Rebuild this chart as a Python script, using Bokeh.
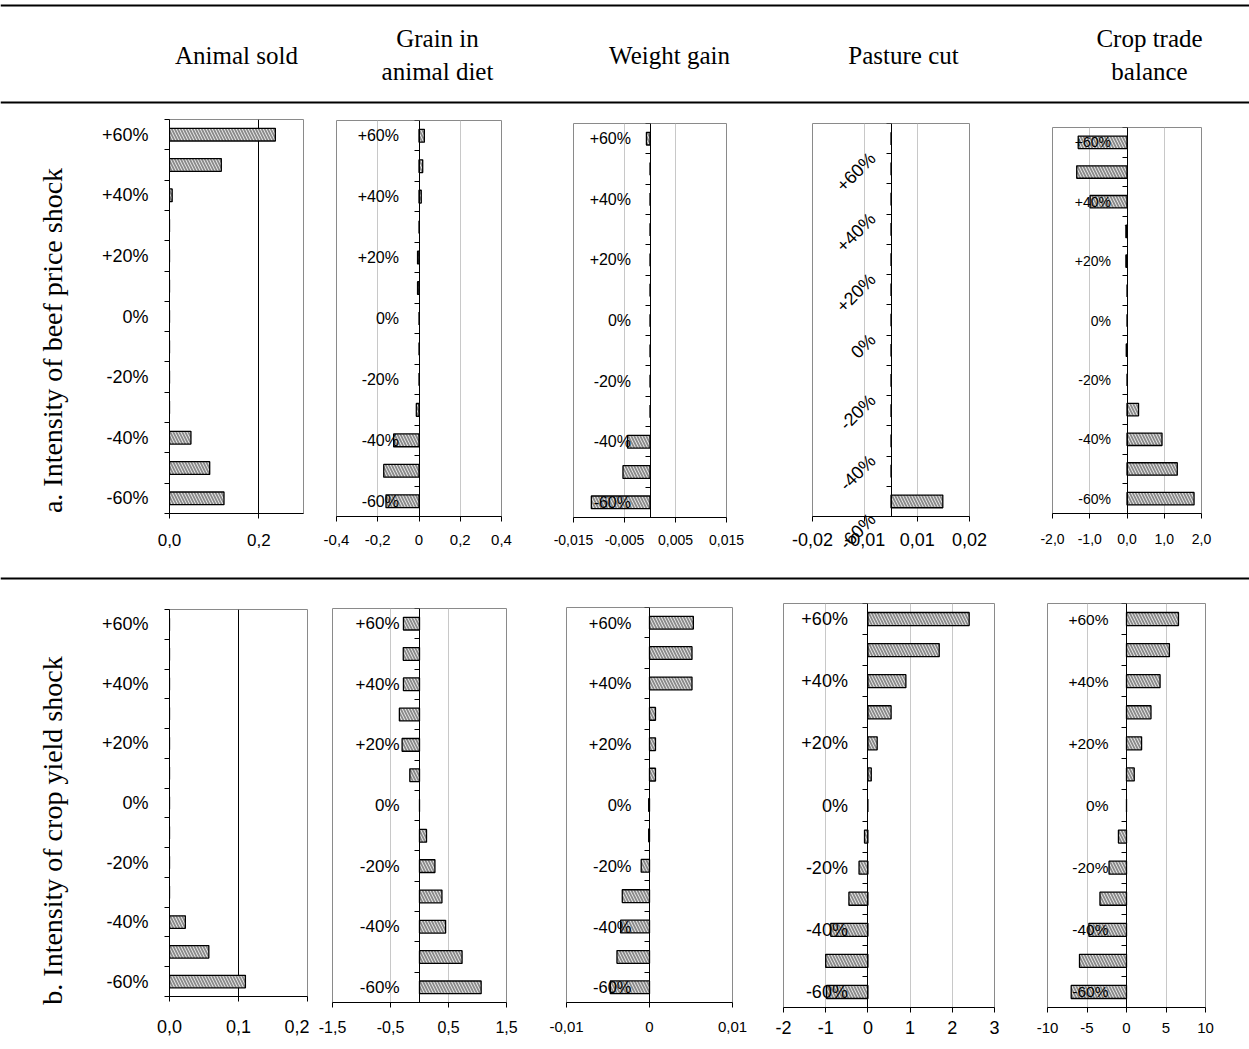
from math import pi
from bokeh.plotting import figure
from bokeh.models import Range1d, FixedTicker, Span, LinearAxis, ColumnDataSource
from bokeh.layouts import column, row
from bokeh.embed import file_html
from bokeh.resources import INLINE
from bokeh.core.properties import value

# ---------------- data ----------------
shock_levels = ["+60%", "+50%", "+40%", "+30%", "+20%", "+10%", "0%",
                "-10%", "-20%", "-30%", "-40%", "-50%", "-60%"]
labelled_levels = ["+60%", "+40%", "+20%", "0%", "-20%", "-40%", "-60%"]

column_titles = [["Animal sold"], ["Grain in", "animal diet"], ["Weight gain"],
                 ["Pasture cut"], ["Crop trade", "balance"]]
row_titles = ["a. Intensity of beef price shock", "b. Intensity of crop yield shock"]

# a. beef price shock
beef_animal_sold = [0.237, 0.116, 0.006, 0, 0, 0, 0, 0, 0, 0, 0.048, 0.090, 0.122]
beef_grain_diet = [0.026, 0.018, 0.011, 0, -0.007, -0.007, 0, 0, 0, -0.013, -0.123, -0.171, -0.16]
beef_weight_gain = [-0.0007, 0, 0, 0, 0, 0, 0, 0, 0, 0, -0.0044, -0.0053, -0.0115]
beef_pasture_cut = [0, 0, 0, 0, 0, 0, 0, 0, 0, 0, 0, 0, 0.0099]
beef_crop_trade = [-1.31, -1.35, -0.99, -0.03, -0.03, 0, 0, -0.02, 0, 0.31, 0.94, 1.35, 1.80]

# b. crop yield shock
crop_animal_sold = [0, 0, 0, 0, 0, 0, 0, 0, 0, 0, 0.023, 0.057, 0.110]
crop_grain_diet = [-0.277, -0.28, -0.277, -0.347, -0.30, -0.167, 0, 0.121, 0.266, 0.387, 0.45, 0.734, 1.063]
crop_weight_gain = [0.00528, 0.00512, 0.00512, 0.00072, 0.00072, 0.00072, -0.0001, -0.0001,
                    -0.001, -0.00328, -0.00348, -0.00392, -0.00472]
crop_pasture_cut = [2.40, 1.69, 0.90, 0.55, 0.22, 0.08, 0, -0.08, -0.21, -0.45, -0.88, -1.0, -0.98]
crop_trade_balance = [6.58, 5.43, 4.25, 3.10, 1.91, 0.98, 0, -1.02, -2.21, -3.36, -4.76, -5.95, -7.0]

# value-axis ticks and labels
a1_ticks, a1_labels = [0.0, 0.2], ["0,0", "0,2"]
a2_ticks, a2_labels = [-0.4, -0.2, 0.0, 0.2, 0.4], ["-0,4", "-0,2", "0", "0,2", "0,4"]
a3_ticks, a3_labels = [-0.015, -0.005, 0.005, 0.015], ["-0,015", "-0,005", "0,005", "0,015"]
a4_ticks, a4_labels = [-0.015, -0.005, 0.005, 0.015], ["-0,02", "-0,01", "0,01", "0,02"]
a5_ticks, a5_labels = [-2.0, -1.0, 0.0, 1.0, 2.0], ["-2,0", "-1,0", "0,0", "1,0", "2,0"]
b1_ticks, b1_labels = [0.0, 0.1, 0.2], ["0,0", "0,1", "0,2"]
b2_ticks, b2_labels = [-1.5, -0.5, 0.5, 1.5], ["-1,5", "-0,5", "0,5", "1,5"]
b3_ticks, b3_labels = [-0.01, 0.0, 0.01], ["-0,01", "0", "0,01"]
b4_ticks, b4_labels = [-2, -1, 0, 1, 2, 3], ["-2", "-1", "0", "1", "2", "3"]
b5_ticks, b5_labels = [-10, -5, 0, 5, 10], ["-10", "-5", "0", "5", "10"]

SANS = "Liberation Sans"
SERIF = "Liberation Serif"
W = 1249


def make_panel(vals, xr, xticks, xlabels, grid, grid_color, size, borders,
               ylab_fs, ylab_so, xlab_fs, xlab_so, rotated=False):
    w, h = size
    bl, br, bt, bb = borders
    n = len(shock_levels)
    p = figure(width=w, height=h, x_range=Range1d(*xr), y_range=Range1d(n - 0.5, -0.5),
               output_backend="svg", toolbar_location=None,
               min_border_left=bl, min_border_right=br, min_border_top=bt, min_border_bottom=bb)
    p.frame_align = False
    p.background_fill_color = "white"
    p.border_fill_color = "white"
    p.outline_line_color = "#8a8a8a"
    p.outline_line_width = 1

    src = ColumnDataSource(dict(pos=list(range(n)), val=vals))
    p.hbar(y="pos", left=0, right="val", height=0.42, source=src,
           fill_color="#ececec", hatch_pattern="left_diagonal_line", hatch_color="#8a8a8a",
           hatch_weight=1.8, hatch_scale=6, line_color="black", line_width=1.3)

    p.ygrid.visible = False
    if grid:
        p.xgrid.ticker = FixedTicker(ticks=grid)
        p.xgrid.grid_line_color = grid_color
        p.xgrid.grid_line_width = 1
    else:
        p.xgrid.visible = False

    xa = p.xaxis[0]
    xa.ticker = FixedTicker(ticks=xticks)
    xa.major_label_overrides = dict(zip(xticks, xlabels))
    xa.major_tick_out = 5
    xa.major_tick_in = 0
    xa.minor_tick_out = 0
    xa.minor_tick_in = 0
    xa.axis_line_color = "black"
    xa.major_tick_line_color = "black"
    xa.major_label_text_font = SANS
    xa.major_label_text_font_size = f"{xlab_fs}px"
    xa.major_label_text_color = "black"
    xa.major_label_standoff = xlab_so

    ya = p.yaxis[0]
    if xr[0] < 0:
        ya.fixed_location = 0
    lab_pos = [shock_levels.index(s) for s in labelled_levels]
    minor = [i - 0.5 for i in range(n + 1)]
    if rotated:
        ya.ticker = FixedTicker(ticks=[], minor_ticks=minor)
    else:
        ya.ticker = FixedTicker(ticks=lab_pos, minor_ticks=minor)
        ya.major_label_overrides = {i: shock_levels[i] for i in lab_pos}
    ya.major_tick_out = 0
    ya.major_tick_in = 0
    ya.minor_tick_out = 5
    ya.minor_tick_in = 0
    ya.minor_tick_line_color = "black"
    ya.axis_line_color = "black"
    ya.major_label_text_font = SANS
    ya.major_label_text_font_size = f"{ylab_fs}px"
    ya.major_label_text_color = "black"
    ya.major_label_standoff = ylab_so

    if rotated:
        # slanted category labels, anchored just left of the zero line
        frame_w = w - bl - br
        zero_px = frame_w * (0 - xr[0]) / (xr[1] - xr[0])
        rpos = [min(i + 0.56, n - 0.5) for i in lab_pos]
        rax = LinearAxis(ticker=FixedTicker(ticks=rpos),
                         major_label_overrides={rp: shock_levels[i] for rp, i in zip(rpos, lab_pos)},
                         major_label_orientation=pi / 4,
                         axis_line_color=None, major_tick_line_color=None,
                         minor_tick_line_color=None, major_tick_out=0, major_tick_in=0,
                         minor_tick_out=0, minor_tick_in=0,
                         major_label_standoff=-int(round(zero_px - 18)),
                         major_label_text_font=SANS,
                         major_label_text_font_size=f"{ylab_fs}px",
                         major_label_text_color="black")
        p.add_layout(rax, "left")
    return p


def blank(w, h):
    f = figure(width=w, height=h, x_range=Range1d(0, w), y_range=Range1d(h, 0),
               output_backend="svg", toolbar_location=None, min_border=0,
               x_axis_type=None, y_axis_type=None)
    f.frame_align = False
    f.outline_line_color = None
    f.background_fill_color = "white"
    f.border_fill_color = "white"
    return f


# header
hdr = blank(W, 112)
hdr.add_layout(Span(location=5, dimension="width", line_color="black", line_width=2))
hdr.add_layout(Span(location=102, dimension="width", line_color="black", line_width=2))
title_x = [236, 437, 669, 903, 1149]
tx, ty, tt = [], [], []
for cx, lines in zip(title_x, column_titles):
    if len(lines) == 1:
        tx.append(cx); ty.append(55); tt.append(lines[0])
    else:
        tx += [cx, cx]; ty += [38, 71]; tt += lines
hdr.text(x=tx, y=ty, text=tt, text_align="center", text_baseline="middle",
         text_font=value(SERIF), text_font_size="25px", text_color="black")

# row a  (page y 112..568)
lab_a = blank(98, 456)
lab_a.text(x=[52], y=[228], text=[row_titles[0]], angle=pi / 2, text_align="center",
           text_baseline="middle", text_font=value(SERIF), text_font_size="28px", text_color="black")
GRID = "#c8c8c8"
a1 = make_panel(beef_animal_sold, (0, 0.3), a1_ticks, a1_labels, [0.2], "black",
                (220, 456), (71, 15, 7, 55), 18, 16, 17, 15)
a2 = make_panel(beef_grain_diet, (-0.4, 0.4), a2_ticks, a2_labels, [-0.2, 0.2], GRID,
                (230, 456), (18, 47, 8, 52), 16, 15, 15, 13)
a3 = make_panel(beef_weight_gain, (-0.015, 0.015), a3_ticks, a3_labels, [-0.005, 0.005], GRID,
                (240, 456), (25, 62, 11, 51), 16, 14, 14, 12)
a4 = make_panel(beef_pasture_cut, (-0.015, 0.015), a4_ticks, a4_labels, [-0.005, 0.005], GRID,
                (227, 456), (24, 46, 11, 52), 18, 14, 18, 11, rotated=True)
a5 = make_panel(beef_crop_trade, (-2, 2), a5_ticks, a5_labels, [-1, 1], GRID,
                (234, 456), (37, 48, 15, 55), 14, 11, 14, 15)

sep = blank(W, 22)
sep.add_layout(Span(location=10, dimension="width", line_color="black", line_width=2))

# row b  (page y 590..1045)
lab_b = blank(98, 455)
lab_b.text(x=[52], y=[240], text=[row_titles[1]], angle=pi / 2, text_align="center",
           text_baseline="middle", text_font=value(SERIF), text_font_size="28px", text_color="black")
b1 = make_panel(crop_animal_sold, (0, 0.2), b1_ticks, b1_labels, [0.1], "black",
                (211, 455), (69, 2, 19, 49), 18, 16, 18, 18)
b2 = make_panel(crop_grain_diet, (-1.5, 1.5), b2_ticks, b2_labels, [-0.5, 0.5], GRID,
                (239, 455), (23, 42, 18, 43), 17, 15, 16, 13)
b3 = make_panel(crop_weight_gain, (-0.01, 0.01), b3_ticks, b3_labels, [], GRID,
                (220, 455), (18, 36, 17, 43), 16.5, 13, 15, 14)
b4 = make_panel(crop_pasture_cut, (-2, 3), b4_ticks, b4_labels, [-1, 1, 2], GRID,
                (252, 455), (15, 26, 13, 38), 18, 15, 18, 8)
b5 = make_panel(crop_trade_balance, (-10, 10), b5_ticks, b5_labels, [-5, 5], GRID,
                (229, 455), (27, 44, 13, 38), 15.5, 13, 15, 10)

layout = column(hdr,
                row(lab_a, a1, a2, a3, a4, a5),
                sep,
                row(lab_b, b1, b2, b3, b4, b5))

open("out.html", "w").write(file_html(layout, INLINE))
